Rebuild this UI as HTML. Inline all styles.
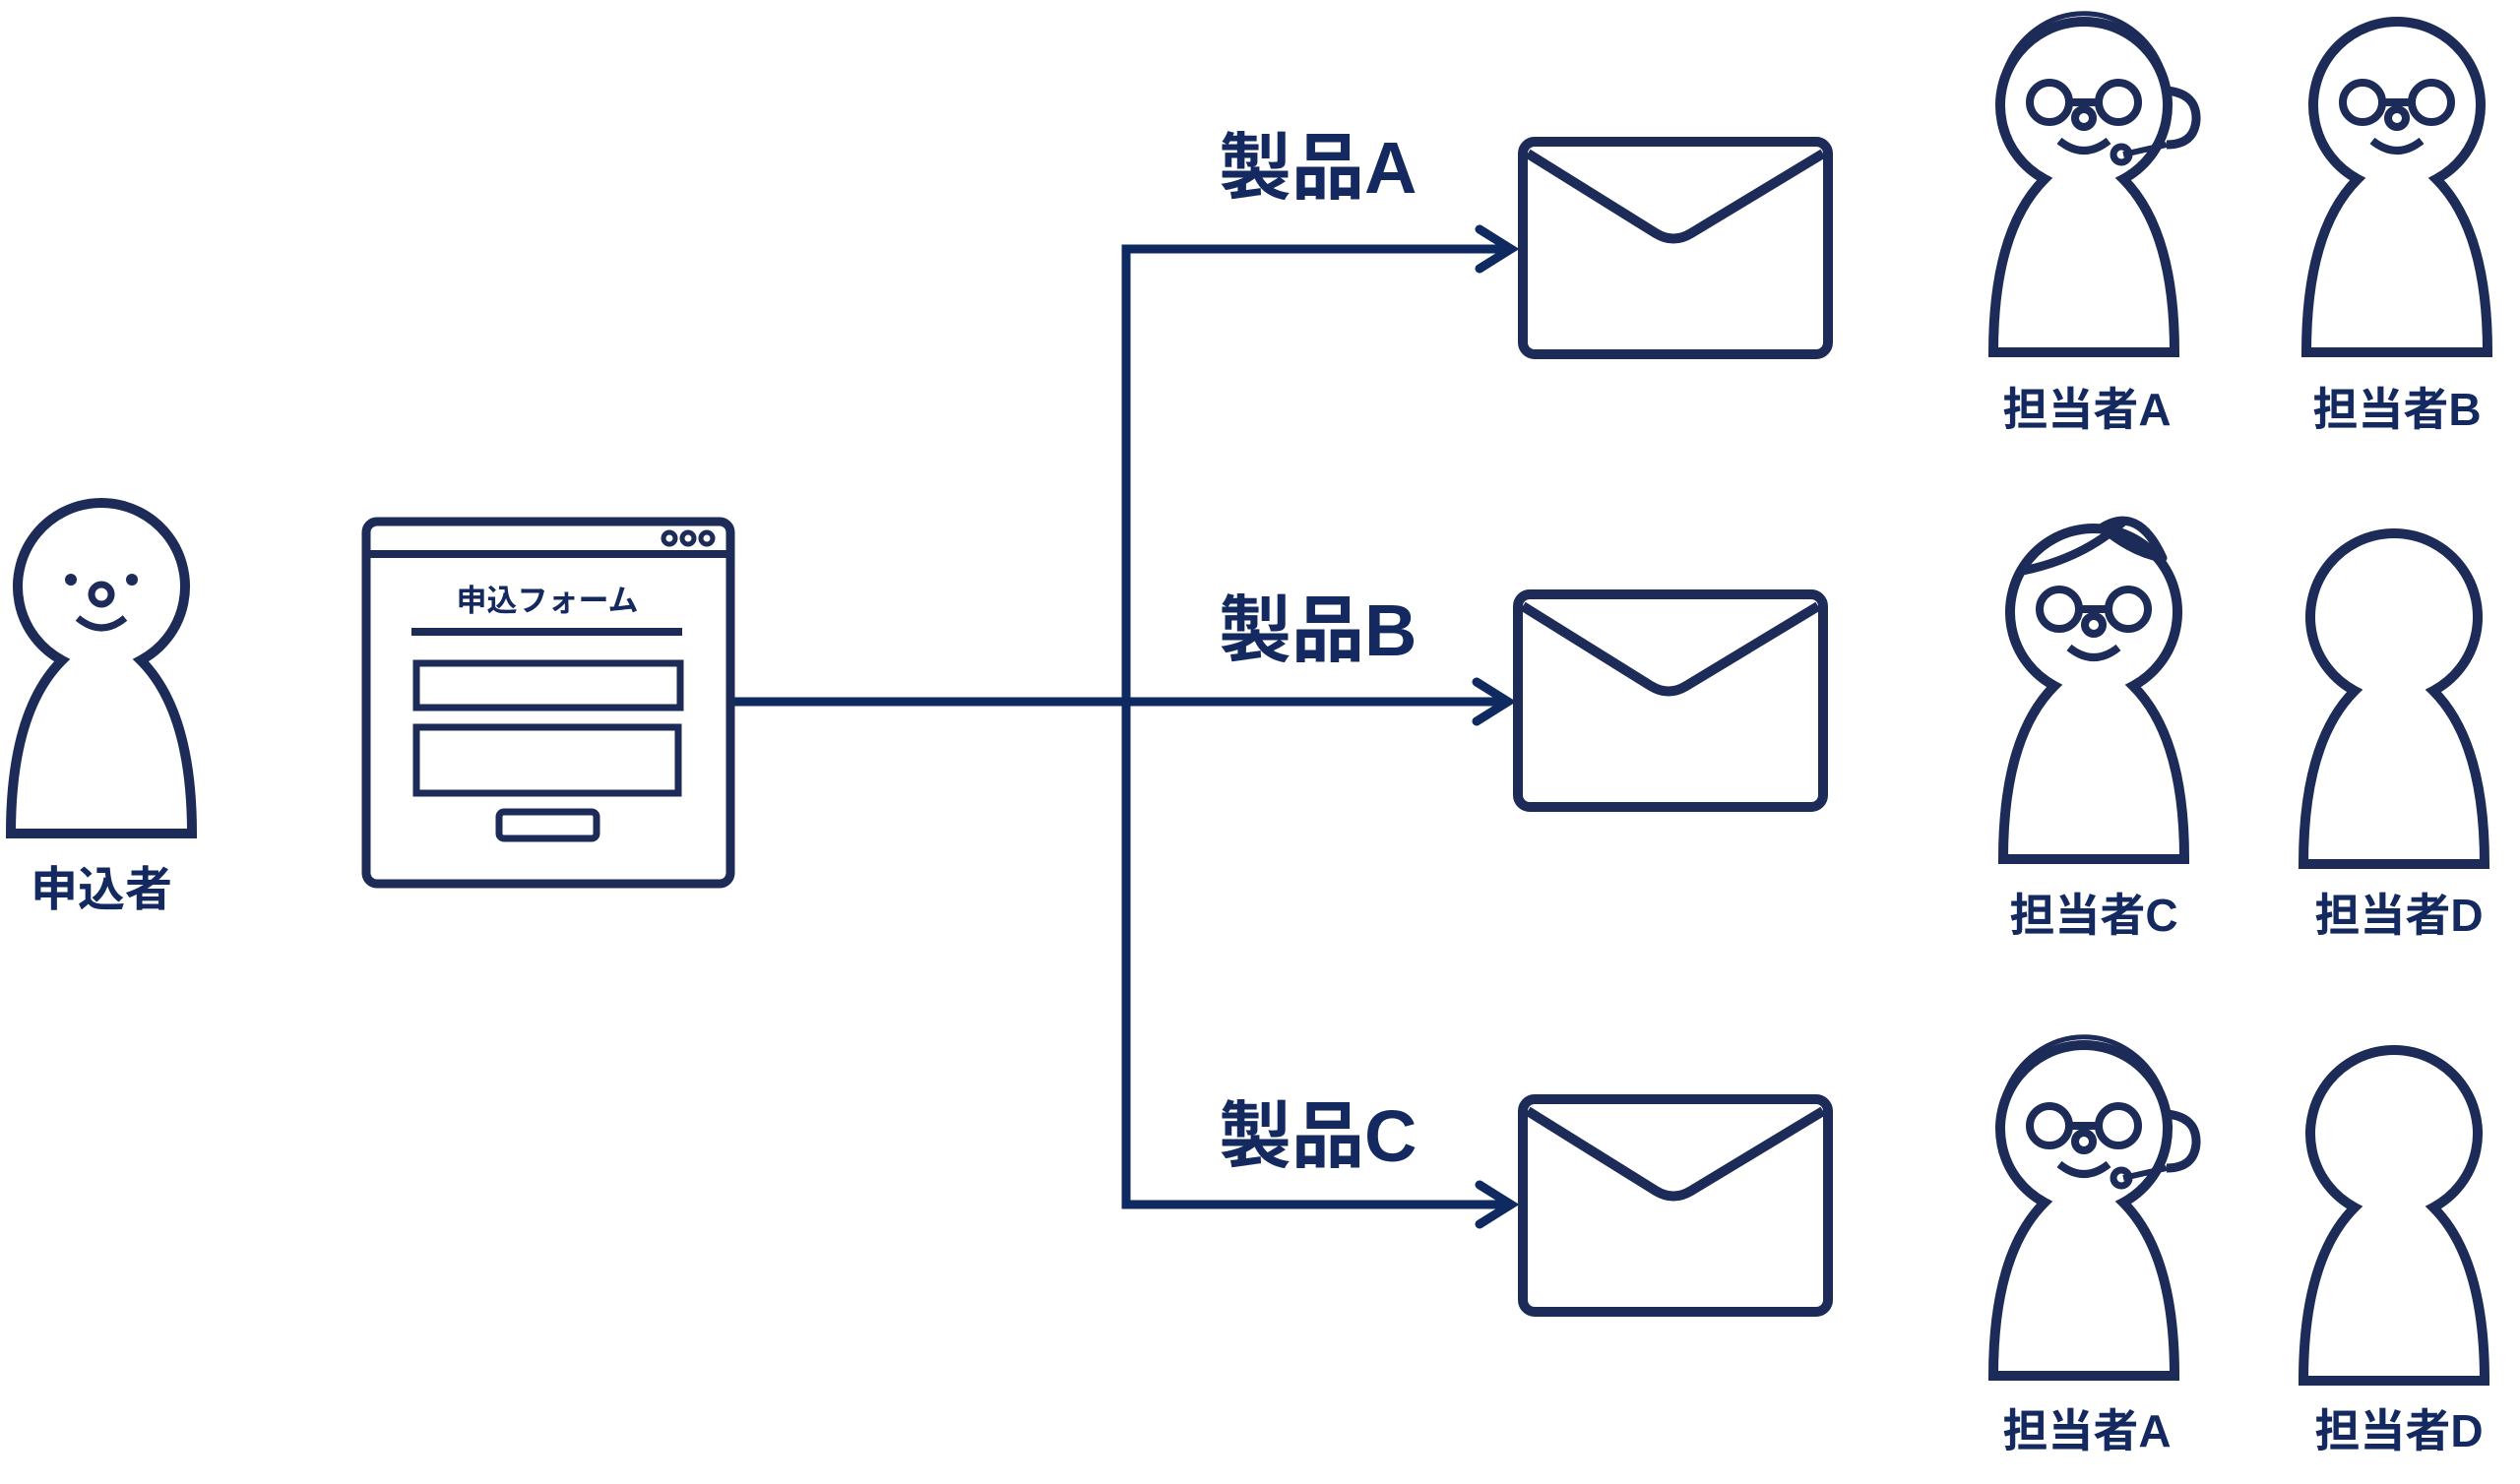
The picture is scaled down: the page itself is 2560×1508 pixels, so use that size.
<!DOCTYPE html>
<html><head><meta charset="utf-8"><style>
html,body{margin:0;padding:0;background:#fff;}
svg{display:block}
text{font-family:"Liberation Sans","Noto Sans CJK JP",sans-serif;font-weight:bold;fill:#13295f;}
</style></head><body>
<svg width="2560" height="1508" viewBox="0 0 2560 1508" xmlns="http://www.w3.org/2000/svg">
<defs>
<path id="body" d="M -40 75 C -75 110, -92 170, -92 251 L 92 251 C 92 170, 75 110, 40 75 A 85 85 0 1 0 -40 75 Z" fill="#fff" stroke="#1c2b57" stroke-width="10"/>
<g id="glasses" fill="none" stroke="#1c2b57" stroke-width="8">
<circle cx="-35" cy="-3" r="20"/><circle cx="35" cy="-3" r="20"/>
<line x1="-15" y1="-3" x2="15" y2="-3"/>
<circle cx="0" cy="13" r="9"/>
<path d="M -25 36 Q 0 56 25 36"/>
</g>
<g id="headset" fill="none" stroke="#1c2b57" stroke-width="5">
<path d="M -80 -35 A 86 92 0 0 1 80 -35"/>
<path d="M 84 -15 Q 115 -12 114 15 Q 112 40 84 40" stroke-width="9"/>
<path d="M 84 40 L 40 50" stroke-width="6"/>
<circle cx="38" cy="50" r="8" stroke-width="7"/>
</g>
</defs>

<g stroke="#0f2a61" stroke-width="9" fill="none" stroke-linecap="butt">
<line x1="742" y1="713" x2="1532" y2="713"/>
<polyline points="1532,253 1144,253 1144,1224 1532,1224"/>
<polyline points="1503,233 1535,253 1503,273" stroke-linecap="round"/>
<polyline points="1500,693 1532,713 1500,733" stroke-linecap="round"/>
<polyline points="1503,1204 1535,1224 1503,1244" stroke-linecap="round"/>
</g>

<g transform="translate(103,596)">
<use href="#body"/>
<circle cx="-31" cy="-7" r="6" fill="#1c2b57"/>
<circle cx="31" cy="-7" r="6" fill="#1c2b57"/>
<circle cx="0" cy="8" r="10" fill="none" stroke="#1c2b57" stroke-width="7"/>
<path d="M -24 32 Q 0 52 24 32" fill="none" stroke="#1c2b57" stroke-width="7"/>
</g>
<text x="103" y="920" font-size="48" text-anchor="middle">申込者</text>

<g fill="none" stroke="#1c2b57">
<rect x="372" y="530" width="370" height="368" rx="11" stroke-width="9"/>
<line x1="372" y1="563" x2="742" y2="563" stroke-width="8"/>
<circle cx="680" cy="547" r="6" stroke-width="5"/>
<circle cx="699" cy="547" r="6" stroke-width="5"/>
<circle cx="718" cy="547" r="6" stroke-width="5"/>
<line x1="418" y1="642" x2="693" y2="642" stroke-width="8"/>
<rect x="423" y="674" width="268" height="45" stroke-width="7"/>
<rect x="423" y="739" width="266" height="67" stroke-width="7"/>
<rect x="507" y="825" width="99" height="27" rx="5" stroke-width="7"/>
</g>
<text x="556" y="621" font-size="31" text-anchor="middle">申込フォーム</text>

<text x="1238" y="196" font-size="74">製品A</text>
<text x="1238" y="666" font-size="74">製品B</text>
<text x="1238" y="1180" font-size="74">製品C</text>

<g fill="#fff" stroke="#1c2b57" stroke-width="10" stroke-linejoin="round">
<rect x="1547" y="144" width="310" height="216" rx="12"/>
<path d="M 1552 156 L 1682 237 Q 1700 248 1718 237 L 1852 156" fill="none"/>
<rect x="1542" y="604" width="310" height="216" rx="12"/>
<path d="M 1547 616 L 1677 697 Q 1695 708 1713 697 L 1847 616" fill="none"/>
<rect x="1547" y="1117" width="310" height="216" rx="12"/>
<path d="M 1552 1129 L 1682 1210 Q 1700 1221 1718 1210 L 1852 1129" fill="none"/>
</g>

<g transform="translate(2117,107)"><use href="#body"/><use href="#glasses"/><use href="#headset"/></g>
<text x="2120" y="432" font-size="46" text-anchor="middle">担当者A</text>
<g transform="translate(2435,107)"><use href="#body"/><use href="#glasses"/></g>
<text x="2435" y="432" font-size="46" text-anchor="middle">担当者B</text>
<g transform="translate(2127,622)"><use href="#body"/><use href="#glasses"/>
<path d="M -72 -42 Q -10 -55 30 -92" fill="none" stroke="#1c2b57" stroke-width="9"/>
<path d="M 7 -85 Q 45 -110 70 -55 Q 40 -60 10 -85" fill="none" stroke="#1c2b57" stroke-width="9" stroke-linejoin="round"/>
</g>
<text x="2127" y="946" font-size="46" text-anchor="middle">担当者C</text>
<g transform="translate(2432,627)"><use href="#body"/></g>
<text x="2437" y="946" font-size="46" text-anchor="middle">担当者D</text>
<g transform="translate(2117,1147)"><use href="#body"/><use href="#glasses"/><use href="#headset"/></g>
<text x="2120" y="1470" font-size="46" text-anchor="middle">担当者A</text>
<g transform="translate(2432,1152)"><use href="#body"/></g>
<text x="2437" y="1470" font-size="46" text-anchor="middle">担当者D</text>
</svg>
</body></html>
